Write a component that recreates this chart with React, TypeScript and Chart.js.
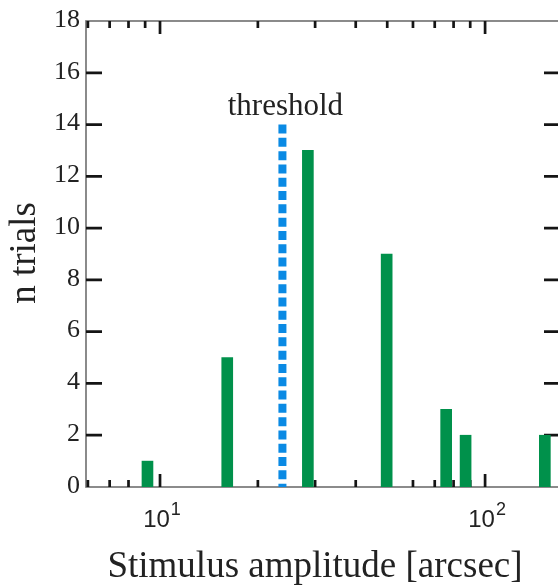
import React, { useEffect, useRef } from "react";
import { Chart, registerables } from "chart.js";

Chart.register(...registerables);

// ---- data ----
const amplitudes = [9.15, 16.1, 28.5, 49.8, 75.9, 87.1, 152.7];
const trialCounts = [1, 5, 13, 9, 3, 2, 2];
const thresholdAmplitude = 23.8;
const thresholdTop = 14;
const yTickValues = [2, 4, 6, 8, 10, 12, 14, 16];
const yTickLabels = ["0", "2", "4", "6", "8", "10", "12", "14", "16", "18"];
const yLabelValues = [0, 2, 4, 6, 8, 10, 12, 14, 16, 18];
const xDecades = [1, 10, 100];
const xMajorTicks = [10, 100];
const xMajorBases = ["10", "10"];
const xMajorExponents = ["1", "2"];
const xRange = [5.92, 170];
const yRange = [0, 18];
const xTitle = "Stimulus amplitude [arcsec]";
const yTitle = "n trials";
const thresholdLabel = "threshold";

const TEXT = "#222222";
const SERIF = '"Liberation Serif", "Times New Roman", serif';
const SANS = '"Liberation Sans", Arial, sans-serif';

const framePlugin = {
  id: "frame",
  beforeDatasetsDraw(chart: any) {
    const { ctx, chartArea, scales } = chart;
    const { left, right, top, bottom } = chartArea;
    const x = scales.x;
    const y = scales.y;
    ctx.save();
    // frame lines
    ctx.strokeStyle = "#777777";
    ctx.lineWidth = 1.7;
    ctx.strokeRect(left, top, right - left, bottom - top);

    // y ticks (inward, both sides)
    ctx.strokeStyle = "#151515";
    ctx.lineWidth = 2.8;
    ctx.beginPath();
    for (const v of yTickValues) {
      const py = y.getPixelForValue(v);
      ctx.moveTo(left, py);
      ctx.lineTo(left + 16, py);
      ctx.moveTo(right, py);
      ctx.lineTo(right - 16, py);
    }
    ctx.stroke();

    // x ticks (inward, bottom and top)
    ctx.lineWidth = 2.7;
    ctx.beginPath();
    for (const d of xDecades) {
      for (let m = 1; m <= 9; m++) {
        const v = d * m;
        if (v < xRange[0] * 0.99 || v > xRange[1]) continue;
        const px = Math.max(left + 1, x.getPixelForValue(v));
        const len = m === 1 ? 13 : 7;
        ctx.moveTo(px, bottom);
        ctx.lineTo(px, bottom - len);
        ctx.moveTo(px, top);
        ctx.lineTo(px, top + len);
      }
    }
    ctx.stroke();
    ctx.restore();
  },
  afterDatasetsDraw(chart: any) {
    const { ctx, chartArea, scales } = chart;
    const { left } = chartArea;
    const x = scales.x;
    const y = scales.y;
    ctx.save();
    ctx.fillStyle = TEXT;

    // y tick labels
    ctx.font = `26px ${SERIF}`;
    ctx.textAlign = "right";
    ctx.textBaseline = "middle";
    yLabelValues.forEach((v, i) => {
      ctx.fillText(yTickLabels[i], left - 6, y.getPixelForValue(v) - 1);
    });

    // x tick labels with superscript exponent
    ctx.textAlign = "left";
    ctx.textBaseline = "alphabetic";
    xMajorTicks.forEach((v, i) => {
      const px = x.getPixelForValue(v);
      ctx.font = `24px ${SANS}`;
      const w1 = ctx.measureText(xMajorBases[i]).width;
      ctx.font = `18px ${SANS}`;
      const w2 = ctx.measureText(xMajorExponents[i]).width;
      const total = w1 + 1 + w2;
      const sx = px + 2 - total / 2;
      ctx.font = `24px ${SANS}`;
      ctx.fillText(xMajorBases[i], sx, 527);
      ctx.font = `18px ${SANS}`;
      ctx.fillText(xMajorExponents[i], sx + w1 + 1, 515);
    });

    // axis titles
    ctx.font = `37px ${SERIF}`;
    ctx.textAlign = "center";
    ctx.fillText(xTitle, 315, 577);
    ctx.save();
    ctx.translate(35, 253);
    ctx.rotate(-Math.PI / 2);
    ctx.fillText(yTitle, 0, 0);
    ctx.restore();

    // threshold label
    ctx.font = `31px ${SERIF}`;
    ctx.textAlign = "center";
    ctx.fillText(thresholdLabel, x.getPixelForValue(thresholdAmplitude) + 3, 115);
    ctx.restore();
  },
};

export default function App() {
  const canvasRef = useRef<HTMLCanvasElement | null>(null);

  useEffect(() => {
    const canvas = canvasRef.current;
    if (!canvas) return;
    const chart = new Chart(canvas, {
      type: "bar",
      data: {
        datasets: [
          {
            type: "line",
            label: "threshold",
            data: [
              { x: thresholdAmplitude, y: thresholdTop },
              { x: thresholdAmplitude, y: 0 },
            ],
            borderColor: "#0a8ae4",
            borderWidth: 8,
            borderDash: [9, 4.3],
            borderCapStyle: "butt",
            pointRadius: 0,
            fill: false,
            order: 0,
          } as any,
          {
            type: "bar",
            label: "n trials",
            data: amplitudes.map((a, i) => ({ x: a, y: trialCounts[i] })),
            backgroundColor: "#00914b",
            borderWidth: 0,
            barThickness: 11,
            order: 1,
          } as any,
        ],
      },
      options: {
        responsive: false,
        animation: false,
        devicePixelRatio: 1,
        layout: { padding: { left: 86, top: 21, right: 2, bottom: 98 } },
        plugins: {
          legend: { display: false },
          tooltip: { enabled: false },
        },
        scales: {
          x: {
            type: "logarithmic",
            display: false,
            offset: false,
            min: xRange[0],
            max: xRange[1],
          },
          y: {
            type: "linear",
            display: false,
            min: yRange[0],
            max: yRange[1],
          },
        },
      },
      plugins: [framePlugin],
    } as any);
    return () => chart.destroy();
  }, []);

  return (
    <div
      style={{
        position: "fixed",
        left: 0,
        top: 0,
        width: 558,
        height: 585,
        overflow: "hidden",
        background: "#ffffff",
      }}
    >
      <canvas
        ref={canvasRef}
        width={562}
        height={585}
        style={{ display: "block", width: 562, height: 585 }}
      />
    </div>
  );
}
